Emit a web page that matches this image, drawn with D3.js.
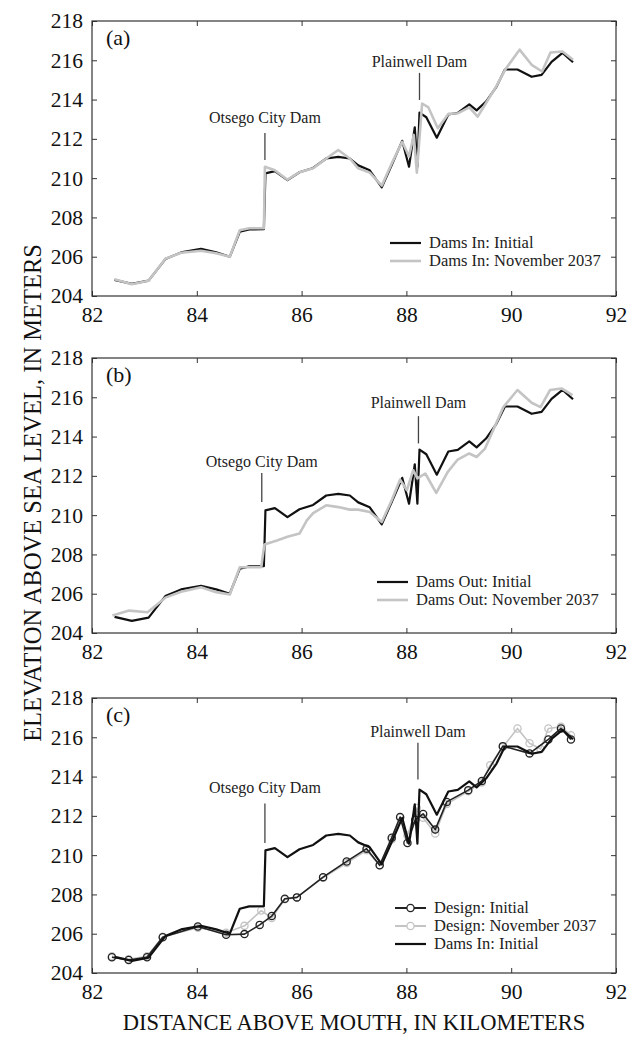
<!DOCTYPE html>
<html>
<head>
<meta charset="utf-8">
<script src="https://cdn.jsdelivr.net/npm/d3@7"></script>
<style>
  body { margin: 0; background: #fff; }
  svg { display: block; font-family: 'Liberation Serif', 'Times New Roman', serif; }
</style>
</head>
<body>
<svg id="chart" width="627" height="1038"></svg>
<script>
const xTicks = [82, 84, 86, 88, 90, 92];
const yTicks = [204, 206, 208, 210, 212, 214, 216, 218];

// [km, elevation]
const damsInInitial = [
  [82.43, 204.82], [82.76, 204.62], [83.08, 204.78], [83.40, 205.88], [83.70, 206.22],
  [84.08, 206.40], [84.37, 206.22], [84.63, 206.00], [84.82, 207.27], [85.00, 207.39],
  [85.28, 207.40], [85.31, 210.24], [85.49, 210.36], [85.73, 209.90], [85.96, 210.30],
  [86.22, 210.52], [86.47, 211.00], [86.70, 211.08], [86.92, 211.00], [87.08, 210.65],
  [87.30, 210.40], [87.53, 209.53], [87.72, 210.67], [87.92, 211.90], [88.05, 210.58],
  [88.16, 212.59], [88.21, 210.58], [88.25, 213.34], [88.38, 213.10], [88.58, 212.06],
  [88.80, 213.24], [88.98, 213.32], [89.20, 213.75], [89.34, 213.45], [89.52, 213.90],
  [89.72, 214.66], [89.88, 215.53], [90.12, 215.53], [90.39, 215.16], [90.58, 215.26],
  [90.77, 215.92], [90.98, 216.38], [91.18, 215.90]
];
const damsInNov2037 = [
  [82.43, 204.85], [82.76, 204.60], [83.08, 204.78], [83.40, 205.90], [83.70, 206.20],
  [84.08, 206.30], [84.37, 206.18], [84.63, 206.00], [84.82, 207.35], [85.00, 207.45],
  [85.28, 207.45], [85.30, 210.58], [85.49, 210.40], [85.73, 209.92], [85.96, 210.30],
  [86.22, 210.50], [86.47, 211.00], [86.70, 211.43], [86.92, 211.00], [87.08, 210.50],
  [87.30, 210.28], [87.53, 209.62], [87.72, 210.75], [87.92, 211.85], [88.05, 211.10],
  [88.14, 212.20], [88.20, 210.28], [88.30, 213.80], [88.42, 213.60], [88.60, 212.54],
  [88.80, 213.27], [88.98, 213.30], [89.20, 213.60], [89.36, 213.13], [89.55, 213.95],
  [89.72, 214.70], [89.88, 215.50], [90.16, 216.54], [90.39, 215.77], [90.59, 215.43],
  [90.75, 216.40], [90.98, 216.45], [91.18, 216.03]
];
const damsOutInitial = damsInInitial;
const damsOutNov2037 = [
  [82.39, 204.89], [82.71, 205.14], [83.06, 205.06], [83.40, 205.80], [83.70, 206.10],
  [84.08, 206.33], [84.37, 206.08], [84.63, 205.96], [84.82, 207.35], [85.00, 207.35],
  [85.23, 207.35], [85.29, 208.51], [85.53, 208.71], [85.73, 208.90], [85.96, 209.06],
  [86.10, 209.73], [86.22, 210.10], [86.47, 210.50], [86.70, 210.41], [86.92, 210.28],
  [87.08, 210.28], [87.30, 210.16], [87.53, 209.65], [87.72, 210.76], [87.88, 211.81],
  [88.01, 211.27], [88.13, 212.29], [88.21, 211.87], [88.36, 212.12], [88.57, 211.13],
  [88.79, 212.20], [88.98, 212.83], [89.20, 213.14], [89.34, 212.96], [89.50, 213.39],
  [89.85, 215.50], [90.12, 216.37], [90.39, 215.72], [90.56, 215.50], [90.74, 216.37],
  [90.96, 216.45], [91.17, 216.11]
];
const designInitial = [
  [82.38, 204.80], [82.70, 204.66], [83.05, 204.80], [83.35, 205.82], [84.02, 206.37],
  [84.56, 205.95], [84.91, 205.98], [85.20, 206.45], [85.43, 206.90], [85.68, 207.78],
  [85.91, 207.85], [86.41, 208.88], [86.86, 209.68], [87.24, 210.33], [87.49, 209.48],
  [87.72, 210.89], [87.88, 211.94], [88.02, 210.62], [88.17, 211.80], [88.32, 212.10],
  [88.55, 211.30], [88.77, 212.71], [89.18, 213.31], [89.44, 213.78], [89.84, 215.55],
  [90.35, 215.18], [90.71, 215.89], [90.95, 216.45], [91.14, 215.89]
];
const designNov2037 = [
  [82.38, 204.85], [82.70, 204.70], [83.05, 204.85], [83.35, 205.85], [84.02, 206.30],
  [84.56, 206.05], [84.91, 206.40], [85.23, 207.18], [85.43, 206.80], [85.68, 207.75],
  [85.91, 207.85], [86.41, 208.85], [86.86, 209.60], [87.24, 210.25], [87.49, 209.48],
  [87.72, 210.80], [87.88, 211.90], [88.02, 211.00], [88.20, 212.40], [88.32, 211.90],
  [88.55, 211.10], [88.77, 212.60], [89.18, 213.25], [89.44, 213.70], [89.60, 214.58],
  [89.84, 215.50], [90.12, 216.45], [90.35, 215.70], [90.56, 215.40], [90.71, 216.45],
  [90.95, 216.54], [91.14, 216.10]
];

const panelLabels = ['(a)', '(b)', '(c)'];
const panelTops = [21, 358, 698];
// dam marks per panel: [label, km, text elevation, line top, line bottom]
const damMarks = [
  [['Otsego City Dam', 85.30, 212.81, 212.30, 210.92], ['Plainwell Dam', 88.25, 215.67, 215.36, 213.98]],
  [['Otsego City Dam', 85.24, 212.45, 212.15, 210.67], ['Plainwell Dam', 88.23, 215.48, 215.04, 213.65]],
  [['Otsego City Dam', 85.30, 213.14, 212.63, 210.62], ['Plainwell Dam', 88.22, 216.03, 215.72, 213.85]]
];
const panelSeries = [
  [
    { name: 'Dams In: Initial', data: damsInInitial, color: '#111', width: 2.2, marker: false },
    { name: 'Dams In: November 2037', data: damsInNov2037, color: '#c4c4c4', width: 2.6, marker: false }
  ],
  [
    { name: 'Dams Out: Initial', data: damsOutInitial, color: '#111', width: 2.2, marker: false },
    { name: 'Dams Out: November 2037', data: damsOutNov2037, color: '#c4c4c4', width: 2.6, marker: false }
  ],
  [
    { name: 'Design: Initial', data: designInitial, color: '#222', width: 1.6, marker: true },
    { name: 'Design: November 2037', data: designNov2037, color: '#c4c4c4', width: 1.6, marker: true },
    { name: 'Dams In: Initial', data: damsInInitial, color: '#111', width: 2.2, marker: false }
  ]
];
// drawing order: gray above black in (a)/(b), dams-in line above design in (c)
const drawOrder = [[0, 1], [0, 1], [1, 0, 2]];
const legendPos = [[390, 243], [377, 582], [395, 908]];

const svg = d3.select('#chart');
const left = 92, right = 616, plotH = 275;

function drawPanel(p) {
  const top = panelTops[p];
  const x = d3.scaleLinear().domain([82, 92]).range([left, right]);
  const y = d3.scaleLinear().domain([204, 218]).range([top + plotH, top]);
  const g = svg.append('g').attr('class', 'panel');

  g.append('g')
    .attr('transform', `translate(0, ${top + plotH})`)
    .call(d3.axisBottom(x).tickValues(xTicks).tickFormat(d3.format('d')).tickSizeInner(-5).tickSizeOuter(0).tickPadding(11));
  g.append('g')
    .attr('transform', `translate(${left}, 0)`)
    .call(d3.axisLeft(y).tickValues(yTicks).tickFormat(d3.format('d')).tickSizeInner(-5).tickSizeOuter(0).tickPadding(9));
  g.append('g')
    .attr('transform', `translate(0, ${top})`)
    .call(d3.axisTop(x).tickValues(xTicks).tickFormat('').tickSizeInner(-5).tickSizeOuter(0));
  g.append('g')
    .attr('transform', `translate(${right}, 0)`)
    .call(d3.axisRight(y).tickValues(yTicks).tickFormat('').tickSizeInner(-5).tickSizeOuter(0));
  g.selectAll('.domain').remove();
  g.selectAll('.tick line').attr('stroke', '#333');
  g.selectAll('.tick text')
    .attr('font-family', "'Liberation Serif', serif")
    .attr('font-size', 21.5)
    .attr('fill', '#111');

  g.append('rect')
    .attr('x', left).attr('y', top)
    .attr('width', right - left).attr('height', plotH)
    .attr('fill', 'none').attr('stroke', '#333').attr('stroke-width', 1.2);

  const line = d3.line().x(d => x(d[0])).y(d => y(d[1]));
  drawOrder[p].forEach((i) => {
    const s = panelSeries[p][i];
    g.append('path')
      .datum(s.data)
      .attr('fill', 'none')
      .attr('stroke', s.color)
      .attr('stroke-width', s.width)
      .attr('stroke-linejoin', 'round')
      .attr('d', line);
    if (s.marker) {
      g.append('g')
        .selectAll('circle')
        .data(s.data)
        .enter()
        .append('circle')
        .attr('cx', d => x(d[0]))
        .attr('cy', d => y(d[1]))
        .attr('r', 3.6)
        .attr('fill', 'none')
        .attr('stroke', s.color)
        .attr('stroke-width', 1.3);
    }
  });

  damMarks[p].forEach((m) => {
    g.append('line')
      .attr('x1', x(m[1])).attr('x2', x(m[1]))
      .attr('y1', y(m[3])).attr('y2', y(m[4]))
      .attr('stroke', '#444').attr('stroke-width', 1.3);
    g.append('text')
      .attr('x', x(m[1]))
      .attr('y', y(m[2]))
      .attr('text-anchor', 'middle')
      .attr('font-size', 16)
      .attr('fill', '#222')
      .text(m[0]);
  });

  g.append('text')
    .attr('x', left + 14)
    .attr('y', top + 24)
    .attr('font-size', 22)
    .attr('fill', '#111')
    .text(panelLabels[p]);

  const [lx, ly] = legendPos[p];
  panelSeries[p].forEach((s, i) => {
    const yy = ly + i * 18;
    g.append('line')
      .attr('x1', lx).attr('x2', lx + 31)
      .attr('y1', yy).attr('y2', yy)
      .attr('stroke', s.color).attr('stroke-width', s.marker ? 2 : s.width);
    if (s.marker) {
      g.append('circle')
        .attr('cx', lx + 15.5).attr('cy', yy).attr('r', 3.6)
        .attr('fill', '#fff').attr('stroke', s.color).attr('stroke-width', 1.3);
    }
    g.append('text')
      .attr('x', lx + 39)
      .attr('y', yy + 5)
      .attr('font-size', 16.5)
      .attr('fill', '#222')
      .text(s.name);
  });
}

[0, 1, 2].forEach(drawPanel);

svg.append('text')
  .attr('transform', 'translate(32, 493) rotate(-90)')
  .attr('text-anchor', 'middle')
  .attr('dy', '0.35em')
  .attr('font-size', 24.5)
  .attr('fill', '#111')
  .text('ELEVATION ABOVE SEA LEVEL, IN METERS');

svg.append('text')
  .attr('x', (left + right) / 2)
  .attr('y', 1030)
  .attr('text-anchor', 'middle')
  .attr('font-size', 22.5)
  .attr('fill', '#111')
  .text('DISTANCE ABOVE MOUTH, IN KILOMETERS');
</script>
</body>
</html>
